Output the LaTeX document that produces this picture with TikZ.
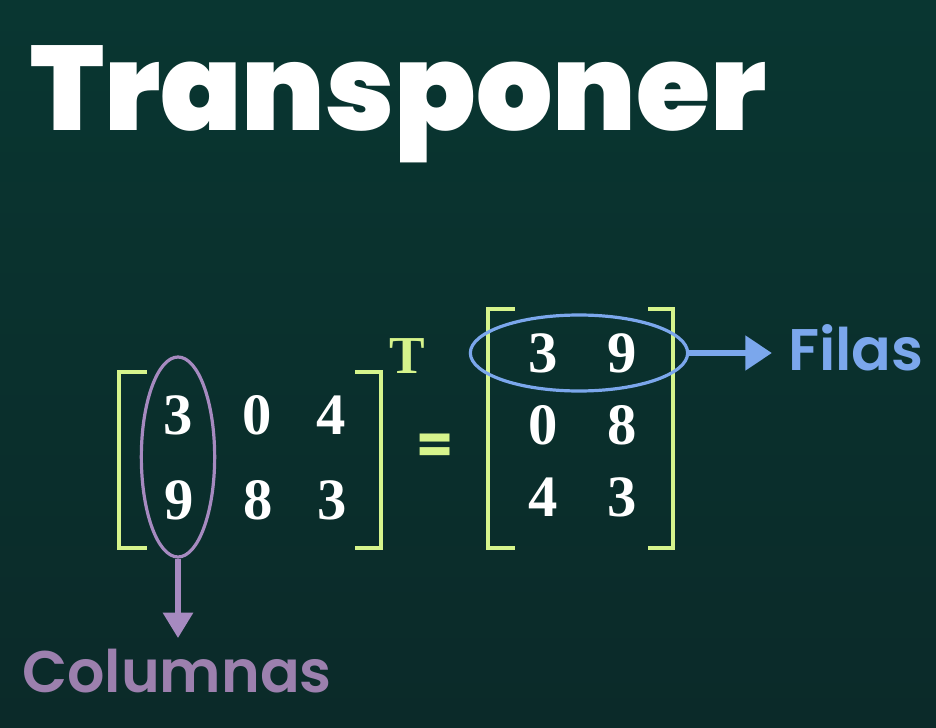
\documentclass[tikz,border=0pt]{standalone}
\usepackage{fontspec}
\setmainfont{Poppins}
\newfontfamily\headfont{Poppins}[UprightFont={* Black}]
\newfontfamily\labelfont{Poppins}[UprightFont={* SemiBold}]
\newfontfamily\numfont{Liberation Serif}
\usetikzlibrary{arrows.meta,positioning,shapes.geometric}
\definecolor{bgtop}{HTML}{093631}
\definecolor{bgbottom}{HTML}{0B2A29}
\definecolor{bracketgreen}{HTML}{D6F48C}
\definecolor{colpurple}{HTML}{A68AC0}
\definecolor{coltext}{HTML}{9C80AE}
\definecolor{rowblue}{HTML}{7BA7EC}
\tikzset{
  title/.style={font=\headfont\fontsize{90}{90}\selectfont,inner sep=0pt,anchor=base west},
  entry/.style={font=\numfont\bfseries\fontsize{44}{44}\selectfont,text=white,inner sep=0pt},
  brk/.style={draw=bracketgreen,line width=3pt},
  ring/.style={draw,ellipse,line width=2.4pt,inner sep=0pt},
  label/.style={font=\labelfont\fontsize{44}{44}\selectfont,inner sep=0pt,anchor=base west},
  colarrow/.style={-{Triangle[width=22pt,length=19pt]},line width=3.8pt,draw=colpurple},
  rowarrow/.style={-{Triangle[width=25pt,length=20pt]},line width=5pt,draw=rowblue}
}
\begin{document}
\begin{tikzpicture}[x=0.75pt,y=-0.75pt]
  \useasboundingbox (0,0) rectangle (936,728);
  \shade[top color=bgtop,bottom color=bgbottom] (0,0) rectangle (936,728);
  % title
  \node[title,text=white] (title) at (30,130) {Transponer};
  % left matrix
  \draw[brk] (147,372) -- (119,372) -- (119,548) -- (147,548);
  \draw[brk] (355,372) -- (381,372) -- (381,548) -- (355,548);
  \node[entry] (a11) at (178,415) {3};
  \node[entry] (a12) at (257,415) {0};
  \node[entry] (a13) at (331,415) {4};
  \node[entry] (a21) at (179,500) {9};
  \node[entry] (a22) at (258,500) {8};
  \node[entry] (a23) at (332,500) {3};
  \node[entry,text=bracketgreen,font=\numfont\bfseries\fontsize{40}{40}\selectfont] (sup) at (407,356) {T};
  \node[font=\bfseries\fontsize{40}{40}\selectfont,text=bracketgreen,inner sep=0pt] (eq) at (435,449) {=};
  % right matrix
  \draw[brk] (515,309) -- (488,309) -- (488,548) -- (515,548);
  \draw[brk] (648,309) -- (673,309) -- (673,548) -- (648,548);
  \node[entry] (b11) at (543,353) {3};
  \node[entry] (b12) at (622,353) {9};
  \node[entry] (b21) at (543,425) {0};
  \node[entry] (b22) at (622,425) {8};
  \node[entry] (b31) at (543,497) {4};
  \node[entry] (b32) at (622,497) {3};
  % highlights
  \node[ring,draw=colpurple,minimum width=55pt,minimum height=150pt] (colring) at (178,457) {};
  \node[ring,draw=rowblue,minimum width=163pt,minimum height=57pt] (rowring) at (579,353) {};
  \coordinate (coltip) at (178,638);
  \coordinate (rowtip) at (772,353);
  \draw[colarrow] (colring.south) -- (coltip);
  \draw[rowarrow] (rowring.east) -- (rowtip);
  \node[label,text=coltext] (columnas) at (22,692) {Columnas};
  \node[label,text=rowblue] (filas) at (788,370) {Filas};
\end{tikzpicture}
\end{document}
